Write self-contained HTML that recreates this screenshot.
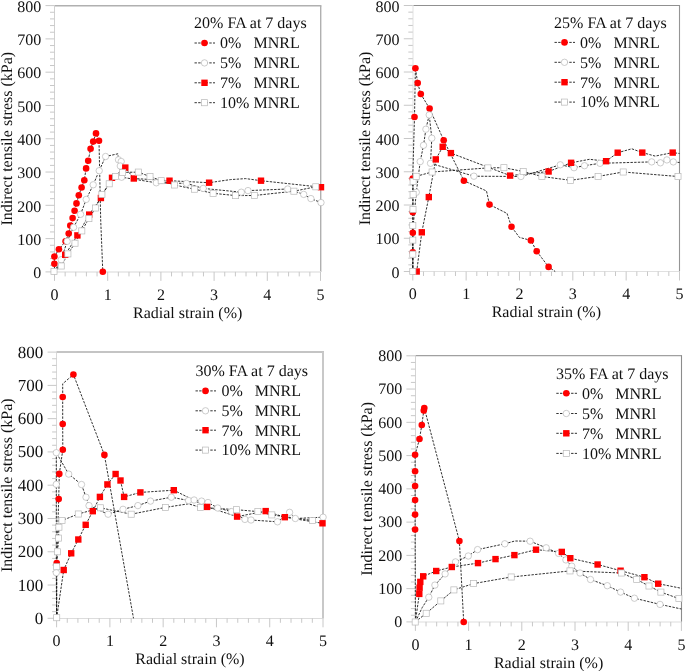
<!DOCTYPE html>
<html><head><meta charset="utf-8"><style>
html,body{margin:0;padding:0;background:#fff;}
svg{display:block;will-change:transform;}
text{text-rendering:geometricPrecision;}
</style></head><body>
<svg width="685" height="671" viewBox="0 0 685 671">
<rect width="685" height="671" fill="#fff"/>
<line x1="54.50" y1="5.70" x2="321.40" y2="5.70" stroke="#b0b0b0" stroke-width="1.4"/>
<line x1="320.70" y1="5.70" x2="320.70" y2="272.00" stroke="#b0b0b0" stroke-width="1.4"/>
<line x1="54.50" y1="5.70" x2="54.50" y2="272.00" stroke="#d0d0d0" stroke-width="1"/>
<line x1="54.50" y1="272.00" x2="320.70" y2="272.00" stroke="#ebebeb" stroke-width="2"/>
<line x1="45.50" y1="271.90" x2="54.50" y2="271.90" stroke="#c8c8c8" stroke-width="1"/>
<text x="41.30" y="278.10" text-anchor="end" style="font-family:'Liberation Serif',serif;font-size:16px;fill:#111;font-size:16px">0</text>
<line x1="50.00" y1="265.24" x2="54.50" y2="265.24" stroke="#c8c8c8" stroke-width="1"/>
<line x1="50.00" y1="258.58" x2="54.50" y2="258.58" stroke="#c8c8c8" stroke-width="1"/>
<line x1="50.00" y1="251.93" x2="54.50" y2="251.93" stroke="#c8c8c8" stroke-width="1"/>
<line x1="50.00" y1="245.27" x2="54.50" y2="245.27" stroke="#c8c8c8" stroke-width="1"/>
<line x1="45.50" y1="238.61" x2="54.50" y2="238.61" stroke="#c8c8c8" stroke-width="1"/>
<text x="41.30" y="244.81" text-anchor="end" style="font-family:'Liberation Serif',serif;font-size:16px;fill:#111;font-size:16px">100</text>
<line x1="50.00" y1="231.95" x2="54.50" y2="231.95" stroke="#c8c8c8" stroke-width="1"/>
<line x1="50.00" y1="225.30" x2="54.50" y2="225.30" stroke="#c8c8c8" stroke-width="1"/>
<line x1="50.00" y1="218.64" x2="54.50" y2="218.64" stroke="#c8c8c8" stroke-width="1"/>
<line x1="50.00" y1="211.98" x2="54.50" y2="211.98" stroke="#c8c8c8" stroke-width="1"/>
<line x1="45.50" y1="205.32" x2="54.50" y2="205.32" stroke="#c8c8c8" stroke-width="1"/>
<text x="41.30" y="211.52" text-anchor="end" style="font-family:'Liberation Serif',serif;font-size:16px;fill:#111;font-size:16px">200</text>
<line x1="50.00" y1="198.67" x2="54.50" y2="198.67" stroke="#c8c8c8" stroke-width="1"/>
<line x1="50.00" y1="192.01" x2="54.50" y2="192.01" stroke="#c8c8c8" stroke-width="1"/>
<line x1="50.00" y1="185.35" x2="54.50" y2="185.35" stroke="#c8c8c8" stroke-width="1"/>
<line x1="50.00" y1="178.69" x2="54.50" y2="178.69" stroke="#c8c8c8" stroke-width="1"/>
<line x1="45.50" y1="172.04" x2="54.50" y2="172.04" stroke="#c8c8c8" stroke-width="1"/>
<text x="41.30" y="178.24" text-anchor="end" style="font-family:'Liberation Serif',serif;font-size:16px;fill:#111;font-size:16px">300</text>
<line x1="50.00" y1="165.38" x2="54.50" y2="165.38" stroke="#c8c8c8" stroke-width="1"/>
<line x1="50.00" y1="158.72" x2="54.50" y2="158.72" stroke="#c8c8c8" stroke-width="1"/>
<line x1="50.00" y1="152.06" x2="54.50" y2="152.06" stroke="#c8c8c8" stroke-width="1"/>
<line x1="50.00" y1="145.41" x2="54.50" y2="145.41" stroke="#c8c8c8" stroke-width="1"/>
<line x1="45.50" y1="138.75" x2="54.50" y2="138.75" stroke="#c8c8c8" stroke-width="1"/>
<text x="41.30" y="144.95" text-anchor="end" style="font-family:'Liberation Serif',serif;font-size:16px;fill:#111;font-size:16px">400</text>
<line x1="50.00" y1="132.09" x2="54.50" y2="132.09" stroke="#c8c8c8" stroke-width="1"/>
<line x1="50.00" y1="125.44" x2="54.50" y2="125.44" stroke="#c8c8c8" stroke-width="1"/>
<line x1="50.00" y1="118.78" x2="54.50" y2="118.78" stroke="#c8c8c8" stroke-width="1"/>
<line x1="50.00" y1="112.12" x2="54.50" y2="112.12" stroke="#c8c8c8" stroke-width="1"/>
<line x1="45.50" y1="105.46" x2="54.50" y2="105.46" stroke="#c8c8c8" stroke-width="1"/>
<text x="41.30" y="111.66" text-anchor="end" style="font-family:'Liberation Serif',serif;font-size:16px;fill:#111;font-size:16px">500</text>
<line x1="50.00" y1="98.81" x2="54.50" y2="98.81" stroke="#c8c8c8" stroke-width="1"/>
<line x1="50.00" y1="92.15" x2="54.50" y2="92.15" stroke="#c8c8c8" stroke-width="1"/>
<line x1="50.00" y1="85.49" x2="54.50" y2="85.49" stroke="#c8c8c8" stroke-width="1"/>
<line x1="50.00" y1="78.83" x2="54.50" y2="78.83" stroke="#c8c8c8" stroke-width="1"/>
<line x1="45.50" y1="72.18" x2="54.50" y2="72.18" stroke="#c8c8c8" stroke-width="1"/>
<text x="41.30" y="78.38" text-anchor="end" style="font-family:'Liberation Serif',serif;font-size:16px;fill:#111;font-size:16px">600</text>
<line x1="50.00" y1="65.52" x2="54.50" y2="65.52" stroke="#c8c8c8" stroke-width="1"/>
<line x1="50.00" y1="58.86" x2="54.50" y2="58.86" stroke="#c8c8c8" stroke-width="1"/>
<line x1="50.00" y1="52.20" x2="54.50" y2="52.20" stroke="#c8c8c8" stroke-width="1"/>
<line x1="50.00" y1="45.55" x2="54.50" y2="45.55" stroke="#c8c8c8" stroke-width="1"/>
<line x1="45.50" y1="38.89" x2="54.50" y2="38.89" stroke="#c8c8c8" stroke-width="1"/>
<text x="41.30" y="45.09" text-anchor="end" style="font-family:'Liberation Serif',serif;font-size:16px;fill:#111;font-size:16px">700</text>
<line x1="50.00" y1="32.23" x2="54.50" y2="32.23" stroke="#c8c8c8" stroke-width="1"/>
<line x1="50.00" y1="25.57" x2="54.50" y2="25.57" stroke="#c8c8c8" stroke-width="1"/>
<line x1="50.00" y1="18.92" x2="54.50" y2="18.92" stroke="#c8c8c8" stroke-width="1"/>
<line x1="50.00" y1="12.26" x2="54.50" y2="12.26" stroke="#c8c8c8" stroke-width="1"/>
<line x1="45.50" y1="5.60" x2="54.50" y2="5.60" stroke="#c8c8c8" stroke-width="1"/>
<text x="41.30" y="11.80" text-anchor="end" style="font-family:'Liberation Serif',serif;font-size:16px;fill:#111;font-size:16px">800</text>
<line x1="54.50" y1="271.90" x2="54.50" y2="280.90" stroke="#c8c8c8" stroke-width="1"/>
<text x="54.50" y="299.50" text-anchor="middle" style="font-family:'Liberation Serif',serif;font-size:16px;fill:#111">0</text>
<line x1="65.14" y1="271.90" x2="65.14" y2="276.40" stroke="#c8c8c8" stroke-width="1"/>
<line x1="75.78" y1="271.90" x2="75.78" y2="276.40" stroke="#c8c8c8" stroke-width="1"/>
<line x1="86.42" y1="271.90" x2="86.42" y2="276.40" stroke="#c8c8c8" stroke-width="1"/>
<line x1="97.06" y1="271.90" x2="97.06" y2="276.40" stroke="#c8c8c8" stroke-width="1"/>
<line x1="107.70" y1="271.90" x2="107.70" y2="280.90" stroke="#c8c8c8" stroke-width="1"/>
<text x="107.70" y="299.50" text-anchor="middle" style="font-family:'Liberation Serif',serif;font-size:16px;fill:#111">1</text>
<line x1="118.34" y1="271.90" x2="118.34" y2="276.40" stroke="#c8c8c8" stroke-width="1"/>
<line x1="128.98" y1="271.90" x2="128.98" y2="276.40" stroke="#c8c8c8" stroke-width="1"/>
<line x1="139.62" y1="271.90" x2="139.62" y2="276.40" stroke="#c8c8c8" stroke-width="1"/>
<line x1="150.26" y1="271.90" x2="150.26" y2="276.40" stroke="#c8c8c8" stroke-width="1"/>
<line x1="160.90" y1="271.90" x2="160.90" y2="280.90" stroke="#c8c8c8" stroke-width="1"/>
<text x="160.90" y="299.50" text-anchor="middle" style="font-family:'Liberation Serif',serif;font-size:16px;fill:#111">2</text>
<line x1="171.54" y1="271.90" x2="171.54" y2="276.40" stroke="#c8c8c8" stroke-width="1"/>
<line x1="182.18" y1="271.90" x2="182.18" y2="276.40" stroke="#c8c8c8" stroke-width="1"/>
<line x1="192.82" y1="271.90" x2="192.82" y2="276.40" stroke="#c8c8c8" stroke-width="1"/>
<line x1="203.46" y1="271.90" x2="203.46" y2="276.40" stroke="#c8c8c8" stroke-width="1"/>
<line x1="214.10" y1="271.90" x2="214.10" y2="280.90" stroke="#c8c8c8" stroke-width="1"/>
<text x="214.10" y="299.50" text-anchor="middle" style="font-family:'Liberation Serif',serif;font-size:16px;fill:#111">3</text>
<line x1="224.74" y1="271.90" x2="224.74" y2="276.40" stroke="#c8c8c8" stroke-width="1"/>
<line x1="235.38" y1="271.90" x2="235.38" y2="276.40" stroke="#c8c8c8" stroke-width="1"/>
<line x1="246.02" y1="271.90" x2="246.02" y2="276.40" stroke="#c8c8c8" stroke-width="1"/>
<line x1="256.66" y1="271.90" x2="256.66" y2="276.40" stroke="#c8c8c8" stroke-width="1"/>
<line x1="267.30" y1="271.90" x2="267.30" y2="280.90" stroke="#c8c8c8" stroke-width="1"/>
<text x="267.30" y="299.50" text-anchor="middle" style="font-family:'Liberation Serif',serif;font-size:16px;fill:#111">4</text>
<line x1="277.94" y1="271.90" x2="277.94" y2="276.40" stroke="#c8c8c8" stroke-width="1"/>
<line x1="288.58" y1="271.90" x2="288.58" y2="276.40" stroke="#c8c8c8" stroke-width="1"/>
<line x1="299.22" y1="271.90" x2="299.22" y2="276.40" stroke="#c8c8c8" stroke-width="1"/>
<line x1="309.86" y1="271.90" x2="309.86" y2="276.40" stroke="#c8c8c8" stroke-width="1"/>
<line x1="320.50" y1="271.90" x2="320.50" y2="280.90" stroke="#c8c8c8" stroke-width="1"/>
<text x="320.50" y="299.50" text-anchor="middle" style="font-family:'Liberation Serif',serif;font-size:16px;fill:#111">5</text>
<text x="187.70" y="317.80" text-anchor="middle" style="font-family:'Liberation Serif',serif;font-size:16px;fill:#111">Radial strain (%)</text>
<text transform="translate(11.50,138.75) rotate(-90)" text-anchor="middle" style="font-family:'Liberation Serif',serif;font-size:16px;fill:#111">Indirect tensile stress (kPa)</text>
<polyline points="54.50,271.90 54.40,263.70 54.40,256.60 58.90,249.30 65.60,241.20 68.70,233.50 70.30,225.60 72.60,218.10 74.60,210.80 76.50,203.40 78.80,195.20 81.60,187.50 84.30,180.20 86.10,168.40 88.20,160.80 90.60,148.80 93.20,141.60 96.00,133.40 99.00,140.80 100.70,220.00 102.80,271.80" fill="none" stroke="#1a1a1a" stroke-width="0.9" stroke-dasharray="2.4,1.3"/>
<polyline points="54.50,271.90 61.20,259.70 67.20,241.30 73.60,227.30 80.60,214.30 86.20,199.40 93.20,184.80 99.20,170.70 105.60,156.50 117.90,153.80 118.50,159.80 121.20,161.50 120.30,166.00 121.60,177.20 156.30,182.80 186.50,183.40 203.20,188.40 241.30,192.20 248.00,190.60 287.70,189.00 303.70,194.40 310.90,198.60 321.00,202.60" fill="none" stroke="#1a1a1a" stroke-width="0.9" stroke-dasharray="2.4,1.3"/>
<polyline points="54.50,271.90 65.20,254.80 77.40,235.40 89.20,214.60 100.90,198.00 112.00,177.80 125.30,167.60 133.80,178.50 169.50,180.70 209.10,182.70 230.40,179.60 245.70,178.60 261.00,180.70 321.00,187.20" fill="none" stroke="#1a1a1a" stroke-width="0.9" stroke-dasharray="2.4,1.3"/>
<polyline points="54.00,271.40 61.20,266.00 67.90,253.90 75.00,243.20 81.80,230.90 88.90,218.60 95.50,208.00 101.90,194.50 109.20,183.80 115.50,176.50 122.60,172.40 138.30,172.10 150.00,176.60 161.20,180.70 174.50,185.00 194.50,189.20 213.10,193.30 235.60,195.60 254.40,195.50 293.90,191.20 315.80,186.80" fill="none" stroke="#1a1a1a" stroke-width="0.9" stroke-dasharray="2.4,1.3"/>
<circle cx="54.40" cy="263.70" r="3.3" fill="#ff0000"/>
<circle cx="54.40" cy="256.60" r="3.3" fill="#ff0000"/>
<circle cx="58.90" cy="249.30" r="3.3" fill="#ff0000"/>
<circle cx="65.60" cy="241.20" r="3.3" fill="#ff0000"/>
<circle cx="68.70" cy="233.50" r="3.3" fill="#ff0000"/>
<circle cx="70.30" cy="225.60" r="3.3" fill="#ff0000"/>
<circle cx="72.60" cy="218.10" r="3.3" fill="#ff0000"/>
<circle cx="74.60" cy="210.80" r="3.3" fill="#ff0000"/>
<circle cx="76.50" cy="203.40" r="3.3" fill="#ff0000"/>
<circle cx="78.80" cy="195.20" r="3.3" fill="#ff0000"/>
<circle cx="81.60" cy="187.50" r="3.3" fill="#ff0000"/>
<circle cx="84.30" cy="180.20" r="3.3" fill="#ff0000"/>
<circle cx="86.10" cy="168.40" r="3.3" fill="#ff0000"/>
<circle cx="88.20" cy="160.80" r="3.3" fill="#ff0000"/>
<circle cx="90.60" cy="148.80" r="3.3" fill="#ff0000"/>
<circle cx="93.20" cy="141.60" r="3.3" fill="#ff0000"/>
<circle cx="96.00" cy="133.40" r="3.3" fill="#ff0000"/>
<circle cx="99.00" cy="140.80" r="3.3" fill="#ff0000"/>
<circle cx="102.80" cy="271.80" r="3.3" fill="#ff0000"/>
<circle cx="61.20" cy="259.70" r="3.2" fill="#fff" stroke="#b8b8b8" stroke-width="0.7"/>
<circle cx="67.20" cy="241.30" r="3.2" fill="#fff" stroke="#b8b8b8" stroke-width="0.7"/>
<circle cx="73.60" cy="227.30" r="3.2" fill="#fff" stroke="#b8b8b8" stroke-width="0.7"/>
<circle cx="80.60" cy="214.30" r="3.2" fill="#fff" stroke="#b8b8b8" stroke-width="0.7"/>
<circle cx="86.20" cy="199.40" r="3.2" fill="#fff" stroke="#b8b8b8" stroke-width="0.7"/>
<circle cx="93.20" cy="184.80" r="3.2" fill="#fff" stroke="#b8b8b8" stroke-width="0.7"/>
<circle cx="99.20" cy="170.70" r="3.2" fill="#fff" stroke="#b8b8b8" stroke-width="0.7"/>
<circle cx="105.60" cy="156.50" r="3.2" fill="#fff" stroke="#b8b8b8" stroke-width="0.7"/>
<circle cx="118.50" cy="159.80" r="3.2" fill="#fff" stroke="#b8b8b8" stroke-width="0.7"/>
<circle cx="121.20" cy="161.50" r="3.2" fill="#fff" stroke="#b8b8b8" stroke-width="0.7"/>
<circle cx="120.30" cy="166.00" r="3.2" fill="#fff" stroke="#b8b8b8" stroke-width="0.7"/>
<circle cx="121.60" cy="177.20" r="3.2" fill="#fff" stroke="#b8b8b8" stroke-width="0.7"/>
<circle cx="156.30" cy="182.80" r="3.2" fill="#fff" stroke="#b8b8b8" stroke-width="0.7"/>
<circle cx="186.50" cy="183.40" r="3.2" fill="#fff" stroke="#b8b8b8" stroke-width="0.7"/>
<circle cx="203.20" cy="188.40" r="3.2" fill="#fff" stroke="#b8b8b8" stroke-width="0.7"/>
<circle cx="241.30" cy="192.20" r="3.2" fill="#fff" stroke="#b8b8b8" stroke-width="0.7"/>
<circle cx="248.00" cy="190.60" r="3.2" fill="#fff" stroke="#b8b8b8" stroke-width="0.7"/>
<circle cx="287.70" cy="189.00" r="3.2" fill="#fff" stroke="#b8b8b8" stroke-width="0.7"/>
<circle cx="303.70" cy="194.40" r="3.2" fill="#fff" stroke="#b8b8b8" stroke-width="0.7"/>
<circle cx="310.90" cy="198.60" r="3.2" fill="#fff" stroke="#b8b8b8" stroke-width="0.7"/>
<circle cx="321.00" cy="202.60" r="3.2" fill="#fff" stroke="#b8b8b8" stroke-width="0.7"/>
<rect x="62.00" y="251.60" width="6.4" height="6.4" fill="#ff0000"/>
<rect x="74.20" y="232.20" width="6.4" height="6.4" fill="#ff0000"/>
<rect x="86.00" y="211.40" width="6.4" height="6.4" fill="#ff0000"/>
<rect x="97.70" y="194.80" width="6.4" height="6.4" fill="#ff0000"/>
<rect x="108.80" y="174.60" width="6.4" height="6.4" fill="#ff0000"/>
<rect x="122.10" y="164.40" width="6.4" height="6.4" fill="#ff0000"/>
<rect x="130.60" y="175.30" width="6.4" height="6.4" fill="#ff0000"/>
<rect x="166.30" y="177.50" width="6.4" height="6.4" fill="#ff0000"/>
<rect x="205.90" y="179.50" width="6.4" height="6.4" fill="#ff0000"/>
<rect x="257.80" y="177.50" width="6.4" height="6.4" fill="#ff0000"/>
<rect x="317.80" y="184.00" width="6.4" height="6.4" fill="#ff0000"/>
<rect x="50.95" y="268.35" width="6.1000000000000005" height="6.1000000000000005" fill="#fff" stroke="#b8b8b8" stroke-width="0.7"/>
<rect x="58.15" y="262.95" width="6.1000000000000005" height="6.1000000000000005" fill="#fff" stroke="#b8b8b8" stroke-width="0.7"/>
<rect x="64.85" y="250.85" width="6.1000000000000005" height="6.1000000000000005" fill="#fff" stroke="#b8b8b8" stroke-width="0.7"/>
<rect x="71.95" y="240.15" width="6.1000000000000005" height="6.1000000000000005" fill="#fff" stroke="#b8b8b8" stroke-width="0.7"/>
<rect x="78.75" y="227.85" width="6.1000000000000005" height="6.1000000000000005" fill="#fff" stroke="#b8b8b8" stroke-width="0.7"/>
<rect x="85.85" y="215.55" width="6.1000000000000005" height="6.1000000000000005" fill="#fff" stroke="#b8b8b8" stroke-width="0.7"/>
<rect x="92.45" y="204.95" width="6.1000000000000005" height="6.1000000000000005" fill="#fff" stroke="#b8b8b8" stroke-width="0.7"/>
<rect x="98.85" y="191.45" width="6.1000000000000005" height="6.1000000000000005" fill="#fff" stroke="#b8b8b8" stroke-width="0.7"/>
<rect x="106.15" y="180.75" width="6.1000000000000005" height="6.1000000000000005" fill="#fff" stroke="#b8b8b8" stroke-width="0.7"/>
<rect x="112.45" y="173.45" width="6.1000000000000005" height="6.1000000000000005" fill="#fff" stroke="#b8b8b8" stroke-width="0.7"/>
<rect x="119.55" y="169.35" width="6.1000000000000005" height="6.1000000000000005" fill="#fff" stroke="#b8b8b8" stroke-width="0.7"/>
<rect x="135.25" y="169.05" width="6.1000000000000005" height="6.1000000000000005" fill="#fff" stroke="#b8b8b8" stroke-width="0.7"/>
<rect x="146.95" y="173.55" width="6.1000000000000005" height="6.1000000000000005" fill="#fff" stroke="#b8b8b8" stroke-width="0.7"/>
<rect x="158.15" y="177.65" width="6.1000000000000005" height="6.1000000000000005" fill="#fff" stroke="#b8b8b8" stroke-width="0.7"/>
<rect x="171.45" y="181.95" width="6.1000000000000005" height="6.1000000000000005" fill="#fff" stroke="#b8b8b8" stroke-width="0.7"/>
<rect x="191.45" y="186.15" width="6.1000000000000005" height="6.1000000000000005" fill="#fff" stroke="#b8b8b8" stroke-width="0.7"/>
<rect x="210.05" y="190.25" width="6.1000000000000005" height="6.1000000000000005" fill="#fff" stroke="#b8b8b8" stroke-width="0.7"/>
<rect x="232.55" y="192.55" width="6.1000000000000005" height="6.1000000000000005" fill="#fff" stroke="#b8b8b8" stroke-width="0.7"/>
<rect x="251.35" y="192.45" width="6.1000000000000005" height="6.1000000000000005" fill="#fff" stroke="#b8b8b8" stroke-width="0.7"/>
<rect x="290.85" y="188.15" width="6.1000000000000005" height="6.1000000000000005" fill="#fff" stroke="#b8b8b8" stroke-width="0.7"/>
<rect x="312.75" y="183.75" width="6.1000000000000005" height="6.1000000000000005" fill="#fff" stroke="#b8b8b8" stroke-width="0.7"/>
<text x="194.10" y="28.10" style="font-family:'Liberation Serif',serif;font-size:16px;fill:#111">20% FA at 7 days</text>
<line x1="194.50" y1="43.00" x2="215.00" y2="43.00" stroke="#1a1a1a" stroke-width="0.9" stroke-dasharray="2.4,1.3"/>
<circle cx="204.50" cy="43.00" r="3.3" fill="#ff0000"/>
<text x="220.10" y="48.30" style="font-family:'Liberation Serif',serif;font-size:16px;fill:#111">0%&#160;&#160;&#160;MNRL</text>
<line x1="194.50" y1="62.90" x2="215.00" y2="62.90" stroke="#1a1a1a" stroke-width="0.9" stroke-dasharray="2.4,1.3"/>
<circle cx="204.50" cy="62.90" r="3.2" fill="#fff" stroke="#b8b8b8" stroke-width="0.7"/>
<text x="220.10" y="68.20" style="font-family:'Liberation Serif',serif;font-size:16px;fill:#111">5%&#160;&#160;&#160;MNRL</text>
<line x1="194.50" y1="82.80" x2="215.00" y2="82.80" stroke="#1a1a1a" stroke-width="0.9" stroke-dasharray="2.4,1.3"/>
<rect x="201.30" y="79.60" width="6.4" height="6.4" fill="#ff0000"/>
<text x="220.10" y="88.10" style="font-family:'Liberation Serif',serif;font-size:16px;fill:#111">7%&#160;&#160;&#160;MNRL</text>
<line x1="194.50" y1="102.70" x2="215.00" y2="102.70" stroke="#1a1a1a" stroke-width="0.9" stroke-dasharray="2.4,1.3"/>
<rect x="201.45" y="99.65" width="6.1000000000000005" height="6.1000000000000005" fill="#fff" stroke="#b8b8b8" stroke-width="0.7"/>
<text x="220.10" y="108.00" style="font-family:'Liberation Serif',serif;font-size:16px;fill:#111">10%&#160;MNRL</text>
<line x1="413.00" y1="5.50" x2="680.05" y2="5.50" stroke="#909090" stroke-width="1.1"/>
<line x1="679.50" y1="5.50" x2="679.50" y2="271.50" stroke="#959595" stroke-width="1.1"/>
<line x1="413.00" y1="5.50" x2="413.00" y2="271.50" stroke="#f0f0f0" stroke-width="2"/>
<line x1="413.00" y1="271.50" x2="679.50" y2="271.50" stroke="#e0e0e0" stroke-width="1"/>
<line x1="403.80" y1="271.50" x2="412.80" y2="271.50" stroke="#c8c8c8" stroke-width="1"/>
<text x="399.60" y="277.70" text-anchor="end" style="font-family:'Liberation Serif',serif;font-size:16px;fill:#111;font-size:16px">0</text>
<line x1="408.30" y1="264.85" x2="412.80" y2="264.85" stroke="#c8c8c8" stroke-width="1"/>
<line x1="408.30" y1="258.20" x2="412.80" y2="258.20" stroke="#c8c8c8" stroke-width="1"/>
<line x1="408.30" y1="251.55" x2="412.80" y2="251.55" stroke="#c8c8c8" stroke-width="1"/>
<line x1="408.30" y1="244.90" x2="412.80" y2="244.90" stroke="#c8c8c8" stroke-width="1"/>
<line x1="403.80" y1="238.25" x2="412.80" y2="238.25" stroke="#c8c8c8" stroke-width="1"/>
<text x="399.60" y="244.45" text-anchor="end" style="font-family:'Liberation Serif',serif;font-size:16px;fill:#111;font-size:16px">100</text>
<line x1="408.30" y1="231.60" x2="412.80" y2="231.60" stroke="#c8c8c8" stroke-width="1"/>
<line x1="408.30" y1="224.95" x2="412.80" y2="224.95" stroke="#c8c8c8" stroke-width="1"/>
<line x1="408.30" y1="218.30" x2="412.80" y2="218.30" stroke="#c8c8c8" stroke-width="1"/>
<line x1="408.30" y1="211.65" x2="412.80" y2="211.65" stroke="#c8c8c8" stroke-width="1"/>
<line x1="403.80" y1="205.00" x2="412.80" y2="205.00" stroke="#c8c8c8" stroke-width="1"/>
<text x="399.60" y="211.20" text-anchor="end" style="font-family:'Liberation Serif',serif;font-size:16px;fill:#111;font-size:16px">200</text>
<line x1="408.30" y1="198.35" x2="412.80" y2="198.35" stroke="#c8c8c8" stroke-width="1"/>
<line x1="408.30" y1="191.70" x2="412.80" y2="191.70" stroke="#c8c8c8" stroke-width="1"/>
<line x1="408.30" y1="185.05" x2="412.80" y2="185.05" stroke="#c8c8c8" stroke-width="1"/>
<line x1="408.30" y1="178.40" x2="412.80" y2="178.40" stroke="#c8c8c8" stroke-width="1"/>
<line x1="403.80" y1="171.75" x2="412.80" y2="171.75" stroke="#c8c8c8" stroke-width="1"/>
<text x="399.60" y="177.95" text-anchor="end" style="font-family:'Liberation Serif',serif;font-size:16px;fill:#111;font-size:16px">300</text>
<line x1="408.30" y1="165.10" x2="412.80" y2="165.10" stroke="#c8c8c8" stroke-width="1"/>
<line x1="408.30" y1="158.45" x2="412.80" y2="158.45" stroke="#c8c8c8" stroke-width="1"/>
<line x1="408.30" y1="151.80" x2="412.80" y2="151.80" stroke="#c8c8c8" stroke-width="1"/>
<line x1="408.30" y1="145.15" x2="412.80" y2="145.15" stroke="#c8c8c8" stroke-width="1"/>
<line x1="403.80" y1="138.50" x2="412.80" y2="138.50" stroke="#c8c8c8" stroke-width="1"/>
<text x="399.60" y="144.70" text-anchor="end" style="font-family:'Liberation Serif',serif;font-size:16px;fill:#111;font-size:16px">400</text>
<line x1="408.30" y1="131.85" x2="412.80" y2="131.85" stroke="#c8c8c8" stroke-width="1"/>
<line x1="408.30" y1="125.20" x2="412.80" y2="125.20" stroke="#c8c8c8" stroke-width="1"/>
<line x1="408.30" y1="118.55" x2="412.80" y2="118.55" stroke="#c8c8c8" stroke-width="1"/>
<line x1="408.30" y1="111.90" x2="412.80" y2="111.90" stroke="#c8c8c8" stroke-width="1"/>
<line x1="403.80" y1="105.25" x2="412.80" y2="105.25" stroke="#c8c8c8" stroke-width="1"/>
<text x="399.60" y="111.45" text-anchor="end" style="font-family:'Liberation Serif',serif;font-size:16px;fill:#111;font-size:16px">500</text>
<line x1="408.30" y1="98.60" x2="412.80" y2="98.60" stroke="#c8c8c8" stroke-width="1"/>
<line x1="408.30" y1="91.95" x2="412.80" y2="91.95" stroke="#c8c8c8" stroke-width="1"/>
<line x1="408.30" y1="85.30" x2="412.80" y2="85.30" stroke="#c8c8c8" stroke-width="1"/>
<line x1="408.30" y1="78.65" x2="412.80" y2="78.65" stroke="#c8c8c8" stroke-width="1"/>
<line x1="403.80" y1="72.00" x2="412.80" y2="72.00" stroke="#c8c8c8" stroke-width="1"/>
<text x="399.60" y="78.20" text-anchor="end" style="font-family:'Liberation Serif',serif;font-size:16px;fill:#111;font-size:16px">600</text>
<line x1="408.30" y1="65.35" x2="412.80" y2="65.35" stroke="#c8c8c8" stroke-width="1"/>
<line x1="408.30" y1="58.70" x2="412.80" y2="58.70" stroke="#c8c8c8" stroke-width="1"/>
<line x1="408.30" y1="52.05" x2="412.80" y2="52.05" stroke="#c8c8c8" stroke-width="1"/>
<line x1="408.30" y1="45.40" x2="412.80" y2="45.40" stroke="#c8c8c8" stroke-width="1"/>
<line x1="403.80" y1="38.75" x2="412.80" y2="38.75" stroke="#c8c8c8" stroke-width="1"/>
<text x="399.60" y="44.95" text-anchor="end" style="font-family:'Liberation Serif',serif;font-size:16px;fill:#111;font-size:16px">700</text>
<line x1="408.30" y1="32.10" x2="412.80" y2="32.10" stroke="#c8c8c8" stroke-width="1"/>
<line x1="408.30" y1="25.45" x2="412.80" y2="25.45" stroke="#c8c8c8" stroke-width="1"/>
<line x1="408.30" y1="18.80" x2="412.80" y2="18.80" stroke="#c8c8c8" stroke-width="1"/>
<line x1="408.30" y1="12.15" x2="412.80" y2="12.15" stroke="#c8c8c8" stroke-width="1"/>
<line x1="403.80" y1="5.50" x2="412.80" y2="5.50" stroke="#c8c8c8" stroke-width="1"/>
<text x="399.60" y="11.70" text-anchor="end" style="font-family:'Liberation Serif',serif;font-size:16px;fill:#111;font-size:16px">800</text>
<line x1="412.80" y1="271.50" x2="412.80" y2="280.50" stroke="#c8c8c8" stroke-width="1"/>
<text x="412.80" y="299.10" text-anchor="middle" style="font-family:'Liberation Serif',serif;font-size:16px;fill:#111">0</text>
<line x1="423.47" y1="271.50" x2="423.47" y2="276.00" stroke="#c8c8c8" stroke-width="1"/>
<line x1="434.14" y1="271.50" x2="434.14" y2="276.00" stroke="#c8c8c8" stroke-width="1"/>
<line x1="444.80" y1="271.50" x2="444.80" y2="276.00" stroke="#c8c8c8" stroke-width="1"/>
<line x1="455.47" y1="271.50" x2="455.47" y2="276.00" stroke="#c8c8c8" stroke-width="1"/>
<line x1="466.14" y1="271.50" x2="466.14" y2="280.50" stroke="#c8c8c8" stroke-width="1"/>
<text x="466.14" y="299.10" text-anchor="middle" style="font-family:'Liberation Serif',serif;font-size:16px;fill:#111">1</text>
<line x1="476.81" y1="271.50" x2="476.81" y2="276.00" stroke="#c8c8c8" stroke-width="1"/>
<line x1="487.48" y1="271.50" x2="487.48" y2="276.00" stroke="#c8c8c8" stroke-width="1"/>
<line x1="498.14" y1="271.50" x2="498.14" y2="276.00" stroke="#c8c8c8" stroke-width="1"/>
<line x1="508.81" y1="271.50" x2="508.81" y2="276.00" stroke="#c8c8c8" stroke-width="1"/>
<line x1="519.48" y1="271.50" x2="519.48" y2="280.50" stroke="#c8c8c8" stroke-width="1"/>
<text x="519.48" y="299.10" text-anchor="middle" style="font-family:'Liberation Serif',serif;font-size:16px;fill:#111">2</text>
<line x1="530.15" y1="271.50" x2="530.15" y2="276.00" stroke="#c8c8c8" stroke-width="1"/>
<line x1="540.82" y1="271.50" x2="540.82" y2="276.00" stroke="#c8c8c8" stroke-width="1"/>
<line x1="551.48" y1="271.50" x2="551.48" y2="276.00" stroke="#c8c8c8" stroke-width="1"/>
<line x1="562.15" y1="271.50" x2="562.15" y2="276.00" stroke="#c8c8c8" stroke-width="1"/>
<line x1="572.82" y1="271.50" x2="572.82" y2="280.50" stroke="#c8c8c8" stroke-width="1"/>
<text x="572.82" y="299.10" text-anchor="middle" style="font-family:'Liberation Serif',serif;font-size:16px;fill:#111">3</text>
<line x1="583.49" y1="271.50" x2="583.49" y2="276.00" stroke="#c8c8c8" stroke-width="1"/>
<line x1="594.16" y1="271.50" x2="594.16" y2="276.00" stroke="#c8c8c8" stroke-width="1"/>
<line x1="604.82" y1="271.50" x2="604.82" y2="276.00" stroke="#c8c8c8" stroke-width="1"/>
<line x1="615.49" y1="271.50" x2="615.49" y2="276.00" stroke="#c8c8c8" stroke-width="1"/>
<line x1="626.16" y1="271.50" x2="626.16" y2="280.50" stroke="#c8c8c8" stroke-width="1"/>
<text x="626.16" y="299.10" text-anchor="middle" style="font-family:'Liberation Serif',serif;font-size:16px;fill:#111">4</text>
<line x1="636.83" y1="271.50" x2="636.83" y2="276.00" stroke="#c8c8c8" stroke-width="1"/>
<line x1="647.50" y1="271.50" x2="647.50" y2="276.00" stroke="#c8c8c8" stroke-width="1"/>
<line x1="658.16" y1="271.50" x2="658.16" y2="276.00" stroke="#c8c8c8" stroke-width="1"/>
<line x1="668.83" y1="271.50" x2="668.83" y2="276.00" stroke="#c8c8c8" stroke-width="1"/>
<line x1="679.50" y1="271.50" x2="679.50" y2="280.50" stroke="#c8c8c8" stroke-width="1"/>
<text x="679.50" y="299.10" text-anchor="middle" style="font-family:'Liberation Serif',serif;font-size:16px;fill:#111">5</text>
<text x="546.35" y="317.40" text-anchor="middle" style="font-family:'Liberation Serif',serif;font-size:16px;fill:#111">Radial strain (%)</text>
<text transform="translate(369.80,138.50) rotate(-90)" text-anchor="middle" style="font-family:'Liberation Serif',serif;font-size:16px;fill:#111">Indirect tensile stress (kPa)</text>
<polyline points="412.80,271.50 412.80,252.20 412.80,232.80 412.80,212.20 412.70,178.50 414.50,117.00 415.40,68.30 417.70,83.10 420.80,94.00 429.60,108.60 443.70,140.20 463.90,180.70 486.50,191.00 489.50,204.60 507.00,213.40 511.50,226.70 519.40,237.40 530.90,240.40 536.70,251.30 548.60,266.90 555.20,271.50" fill="none" stroke="#1a1a1a" stroke-width="0.9" stroke-dasharray="2.4,1.3"/>
<polyline points="412.80,271.50 412.80,230.00 416.30,192.30 420.20,161.60 423.50,145.30 425.90,129.20 429.20,114.90 431.80,138.20 430.50,163.30 473.90,176.20 520.90,176.50 560.30,164.80 574.00,167.70 584.50,165.70 600.00,163.30 651.70,161.90 660.40,162.80 666.90,159.90 673.30,161.90 679.50,162.50" fill="none" stroke="#1a1a1a" stroke-width="0.9" stroke-dasharray="2.4,1.3"/>
<polyline points="412.80,271.50 416.70,271.50 421.80,232.30 428.80,197.10 435.80,159.40 442.70,146.80 450.90,153.10 510.10,175.60 548.60,171.50 571.10,162.80 589.50,159.30 606.10,161.20 617.70,152.70 631.80,148.80 642.30,152.60 655.20,156.10 672.70,152.60 679.50,153.50" fill="none" stroke="#1a1a1a" stroke-width="0.9" stroke-dasharray="2.4,1.3"/>
<polyline points="412.80,271.50 412.80,254.20 412.80,240.10 412.80,225.50 413.00,209.30 413.10,194.60 413.10,181.50 416.20,176.30 432.10,172.00 487.90,167.90 503.90,167.70 523.20,171.50 541.90,176.50 570.50,180.30 598.10,176.40 623.20,172.00 678.00,176.50" fill="none" stroke="#1a1a1a" stroke-width="0.9" stroke-dasharray="2.4,1.3"/>
<circle cx="412.80" cy="252.20" r="3.3" fill="#ff0000"/>
<circle cx="412.80" cy="232.80" r="3.3" fill="#ff0000"/>
<circle cx="412.80" cy="212.20" r="3.3" fill="#ff0000"/>
<circle cx="412.70" cy="178.50" r="3.3" fill="#ff0000"/>
<circle cx="414.50" cy="117.00" r="3.3" fill="#ff0000"/>
<circle cx="415.40" cy="68.30" r="3.3" fill="#ff0000"/>
<circle cx="417.70" cy="83.10" r="3.3" fill="#ff0000"/>
<circle cx="420.80" cy="94.00" r="3.3" fill="#ff0000"/>
<circle cx="429.60" cy="108.60" r="3.3" fill="#ff0000"/>
<circle cx="443.70" cy="140.20" r="3.3" fill="#ff0000"/>
<circle cx="463.90" cy="180.70" r="3.3" fill="#ff0000"/>
<circle cx="489.50" cy="204.60" r="3.3" fill="#ff0000"/>
<circle cx="511.50" cy="226.70" r="3.3" fill="#ff0000"/>
<circle cx="530.90" cy="240.40" r="3.3" fill="#ff0000"/>
<circle cx="536.70" cy="251.30" r="3.3" fill="#ff0000"/>
<circle cx="548.60" cy="266.90" r="3.3" fill="#ff0000"/>
<circle cx="416.30" cy="192.30" r="3.2" fill="#fff" stroke="#b8b8b8" stroke-width="0.7"/>
<circle cx="420.20" cy="161.60" r="3.2" fill="#fff" stroke="#b8b8b8" stroke-width="0.7"/>
<circle cx="423.50" cy="145.30" r="3.2" fill="#fff" stroke="#b8b8b8" stroke-width="0.7"/>
<circle cx="425.90" cy="129.20" r="3.2" fill="#fff" stroke="#b8b8b8" stroke-width="0.7"/>
<circle cx="429.20" cy="114.90" r="3.2" fill="#fff" stroke="#b8b8b8" stroke-width="0.7"/>
<circle cx="431.80" cy="138.20" r="3.2" fill="#fff" stroke="#b8b8b8" stroke-width="0.7"/>
<circle cx="430.50" cy="163.30" r="3.2" fill="#fff" stroke="#b8b8b8" stroke-width="0.7"/>
<circle cx="473.90" cy="176.20" r="3.2" fill="#fff" stroke="#b8b8b8" stroke-width="0.7"/>
<circle cx="520.90" cy="176.50" r="3.2" fill="#fff" stroke="#b8b8b8" stroke-width="0.7"/>
<circle cx="560.30" cy="164.80" r="3.2" fill="#fff" stroke="#b8b8b8" stroke-width="0.7"/>
<circle cx="574.00" cy="167.70" r="3.2" fill="#fff" stroke="#b8b8b8" stroke-width="0.7"/>
<circle cx="584.50" cy="165.70" r="3.2" fill="#fff" stroke="#b8b8b8" stroke-width="0.7"/>
<circle cx="600.00" cy="163.30" r="3.2" fill="#fff" stroke="#b8b8b8" stroke-width="0.7"/>
<circle cx="651.70" cy="161.90" r="3.2" fill="#fff" stroke="#b8b8b8" stroke-width="0.7"/>
<circle cx="660.40" cy="162.80" r="3.2" fill="#fff" stroke="#b8b8b8" stroke-width="0.7"/>
<circle cx="666.90" cy="159.90" r="3.2" fill="#fff" stroke="#b8b8b8" stroke-width="0.7"/>
<circle cx="673.30" cy="161.90" r="3.2" fill="#fff" stroke="#b8b8b8" stroke-width="0.7"/>
<rect x="413.50" y="268.30" width="6.4" height="6.4" fill="#ff0000"/>
<rect x="418.60" y="229.10" width="6.4" height="6.4" fill="#ff0000"/>
<rect x="425.60" y="193.90" width="6.4" height="6.4" fill="#ff0000"/>
<rect x="432.60" y="156.20" width="6.4" height="6.4" fill="#ff0000"/>
<rect x="439.50" y="143.60" width="6.4" height="6.4" fill="#ff0000"/>
<rect x="447.70" y="149.90" width="6.4" height="6.4" fill="#ff0000"/>
<rect x="506.90" y="172.40" width="6.4" height="6.4" fill="#ff0000"/>
<rect x="545.40" y="168.30" width="6.4" height="6.4" fill="#ff0000"/>
<rect x="567.90" y="159.60" width="6.4" height="6.4" fill="#ff0000"/>
<rect x="602.90" y="158.00" width="6.4" height="6.4" fill="#ff0000"/>
<rect x="614.50" y="149.50" width="6.4" height="6.4" fill="#ff0000"/>
<rect x="639.10" y="149.40" width="6.4" height="6.4" fill="#ff0000"/>
<rect x="669.50" y="149.40" width="6.4" height="6.4" fill="#ff0000"/>
<rect x="409.75" y="268.45" width="6.1000000000000005" height="6.1000000000000005" fill="#fff" stroke="#b8b8b8" stroke-width="0.7"/>
<rect x="409.75" y="251.15" width="6.1000000000000005" height="6.1000000000000005" fill="#fff" stroke="#b8b8b8" stroke-width="0.7"/>
<rect x="409.75" y="237.05" width="6.1000000000000005" height="6.1000000000000005" fill="#fff" stroke="#b8b8b8" stroke-width="0.7"/>
<rect x="409.75" y="222.45" width="6.1000000000000005" height="6.1000000000000005" fill="#fff" stroke="#b8b8b8" stroke-width="0.7"/>
<rect x="409.95" y="206.25" width="6.1000000000000005" height="6.1000000000000005" fill="#fff" stroke="#b8b8b8" stroke-width="0.7"/>
<rect x="410.05" y="191.55" width="6.1000000000000005" height="6.1000000000000005" fill="#fff" stroke="#b8b8b8" stroke-width="0.7"/>
<rect x="410.05" y="178.45" width="6.1000000000000005" height="6.1000000000000005" fill="#fff" stroke="#b8b8b8" stroke-width="0.7"/>
<rect x="413.15" y="173.25" width="6.1000000000000005" height="6.1000000000000005" fill="#fff" stroke="#b8b8b8" stroke-width="0.7"/>
<rect x="429.05" y="168.95" width="6.1000000000000005" height="6.1000000000000005" fill="#fff" stroke="#b8b8b8" stroke-width="0.7"/>
<rect x="484.85" y="164.85" width="6.1000000000000005" height="6.1000000000000005" fill="#fff" stroke="#b8b8b8" stroke-width="0.7"/>
<rect x="500.85" y="164.65" width="6.1000000000000005" height="6.1000000000000005" fill="#fff" stroke="#b8b8b8" stroke-width="0.7"/>
<rect x="520.15" y="168.45" width="6.1000000000000005" height="6.1000000000000005" fill="#fff" stroke="#b8b8b8" stroke-width="0.7"/>
<rect x="538.85" y="173.45" width="6.1000000000000005" height="6.1000000000000005" fill="#fff" stroke="#b8b8b8" stroke-width="0.7"/>
<rect x="567.45" y="177.25" width="6.1000000000000005" height="6.1000000000000005" fill="#fff" stroke="#b8b8b8" stroke-width="0.7"/>
<rect x="595.05" y="173.35" width="6.1000000000000005" height="6.1000000000000005" fill="#fff" stroke="#b8b8b8" stroke-width="0.7"/>
<rect x="620.15" y="168.95" width="6.1000000000000005" height="6.1000000000000005" fill="#fff" stroke="#b8b8b8" stroke-width="0.7"/>
<rect x="674.95" y="173.45" width="6.1000000000000005" height="6.1000000000000005" fill="#fff" stroke="#b8b8b8" stroke-width="0.7"/>
<text x="554.10" y="27.80" style="font-family:'Liberation Serif',serif;font-size:16px;fill:#111">25% FA at 7 days</text>
<line x1="554.50" y1="42.40" x2="575.00" y2="42.40" stroke="#1a1a1a" stroke-width="0.9" stroke-dasharray="2.4,1.3"/>
<circle cx="564.50" cy="42.40" r="3.3" fill="#ff0000"/>
<text x="580.10" y="47.70" style="font-family:'Liberation Serif',serif;font-size:16px;fill:#111">0%&#160;&#160;&#160;MNRL</text>
<line x1="554.50" y1="62.30" x2="575.00" y2="62.30" stroke="#1a1a1a" stroke-width="0.9" stroke-dasharray="2.4,1.3"/>
<circle cx="564.50" cy="62.30" r="3.2" fill="#fff" stroke="#b8b8b8" stroke-width="0.7"/>
<text x="580.10" y="67.60" style="font-family:'Liberation Serif',serif;font-size:16px;fill:#111">5%&#160;&#160;&#160;MNRL</text>
<line x1="554.50" y1="82.20" x2="575.00" y2="82.20" stroke="#1a1a1a" stroke-width="0.9" stroke-dasharray="2.4,1.3"/>
<rect x="561.30" y="79.00" width="6.4" height="6.4" fill="#ff0000"/>
<text x="580.10" y="87.50" style="font-family:'Liberation Serif',serif;font-size:16px;fill:#111">7%&#160;&#160;&#160;MNRL</text>
<line x1="554.50" y1="102.10" x2="575.00" y2="102.10" stroke="#1a1a1a" stroke-width="0.9" stroke-dasharray="2.4,1.3"/>
<rect x="561.45" y="99.05" width="6.1000000000000005" height="6.1000000000000005" fill="#fff" stroke="#b8b8b8" stroke-width="0.7"/>
<text x="580.10" y="107.40" style="font-family:'Liberation Serif',serif;font-size:16px;fill:#111">10%&#160;MNRL</text>
<line x1="56.50" y1="352.00" x2="324.00" y2="352.00" stroke="#c4c4c4" stroke-width="2"/>
<line x1="323.00" y1="352.00" x2="323.00" y2="618.50" stroke="#c8c8c8" stroke-width="2"/>
<line x1="56.50" y1="352.00" x2="56.50" y2="618.50" stroke="#d8d8d8" stroke-width="1"/>
<line x1="56.50" y1="618.50" x2="323.00" y2="618.50" stroke="#dcdcdc" stroke-width="1"/>
<line x1="47.60" y1="618.30" x2="56.60" y2="618.30" stroke="#c8c8c8" stroke-width="1"/>
<text x="43.30" y="623.80" text-anchor="end" style="font-family:'Liberation Serif',serif;font-size:16px;fill:#111;font-size:17px">0</text>
<line x1="52.10" y1="611.64" x2="56.60" y2="611.64" stroke="#c8c8c8" stroke-width="1"/>
<line x1="52.10" y1="604.99" x2="56.60" y2="604.99" stroke="#c8c8c8" stroke-width="1"/>
<line x1="52.10" y1="598.33" x2="56.60" y2="598.33" stroke="#c8c8c8" stroke-width="1"/>
<line x1="52.10" y1="591.68" x2="56.60" y2="591.68" stroke="#c8c8c8" stroke-width="1"/>
<line x1="47.60" y1="585.02" x2="56.60" y2="585.02" stroke="#c8c8c8" stroke-width="1"/>
<text x="43.30" y="590.52" text-anchor="end" style="font-family:'Liberation Serif',serif;font-size:16px;fill:#111;font-size:17px">100</text>
<line x1="52.10" y1="578.37" x2="56.60" y2="578.37" stroke="#c8c8c8" stroke-width="1"/>
<line x1="52.10" y1="571.71" x2="56.60" y2="571.71" stroke="#c8c8c8" stroke-width="1"/>
<line x1="52.10" y1="565.06" x2="56.60" y2="565.06" stroke="#c8c8c8" stroke-width="1"/>
<line x1="52.10" y1="558.40" x2="56.60" y2="558.40" stroke="#c8c8c8" stroke-width="1"/>
<line x1="47.60" y1="551.75" x2="56.60" y2="551.75" stroke="#c8c8c8" stroke-width="1"/>
<text x="43.30" y="557.25" text-anchor="end" style="font-family:'Liberation Serif',serif;font-size:16px;fill:#111;font-size:17px">200</text>
<line x1="52.10" y1="545.10" x2="56.60" y2="545.10" stroke="#c8c8c8" stroke-width="1"/>
<line x1="52.10" y1="538.44" x2="56.60" y2="538.44" stroke="#c8c8c8" stroke-width="1"/>
<line x1="52.10" y1="531.78" x2="56.60" y2="531.78" stroke="#c8c8c8" stroke-width="1"/>
<line x1="52.10" y1="525.13" x2="56.60" y2="525.13" stroke="#c8c8c8" stroke-width="1"/>
<line x1="47.60" y1="518.48" x2="56.60" y2="518.48" stroke="#c8c8c8" stroke-width="1"/>
<text x="43.30" y="523.98" text-anchor="end" style="font-family:'Liberation Serif',serif;font-size:16px;fill:#111;font-size:17px">300</text>
<line x1="52.10" y1="511.82" x2="56.60" y2="511.82" stroke="#c8c8c8" stroke-width="1"/>
<line x1="52.10" y1="505.16" x2="56.60" y2="505.16" stroke="#c8c8c8" stroke-width="1"/>
<line x1="52.10" y1="498.51" x2="56.60" y2="498.51" stroke="#c8c8c8" stroke-width="1"/>
<line x1="52.10" y1="491.85" x2="56.60" y2="491.85" stroke="#c8c8c8" stroke-width="1"/>
<line x1="47.60" y1="485.20" x2="56.60" y2="485.20" stroke="#c8c8c8" stroke-width="1"/>
<text x="43.30" y="490.70" text-anchor="end" style="font-family:'Liberation Serif',serif;font-size:16px;fill:#111;font-size:17px">400</text>
<line x1="52.10" y1="478.54" x2="56.60" y2="478.54" stroke="#c8c8c8" stroke-width="1"/>
<line x1="52.10" y1="471.89" x2="56.60" y2="471.89" stroke="#c8c8c8" stroke-width="1"/>
<line x1="52.10" y1="465.24" x2="56.60" y2="465.24" stroke="#c8c8c8" stroke-width="1"/>
<line x1="52.10" y1="458.58" x2="56.60" y2="458.58" stroke="#c8c8c8" stroke-width="1"/>
<line x1="47.60" y1="451.92" x2="56.60" y2="451.92" stroke="#c8c8c8" stroke-width="1"/>
<text x="43.30" y="457.42" text-anchor="end" style="font-family:'Liberation Serif',serif;font-size:16px;fill:#111;font-size:17px">500</text>
<line x1="52.10" y1="445.27" x2="56.60" y2="445.27" stroke="#c8c8c8" stroke-width="1"/>
<line x1="52.10" y1="438.62" x2="56.60" y2="438.62" stroke="#c8c8c8" stroke-width="1"/>
<line x1="52.10" y1="431.96" x2="56.60" y2="431.96" stroke="#c8c8c8" stroke-width="1"/>
<line x1="52.10" y1="425.30" x2="56.60" y2="425.30" stroke="#c8c8c8" stroke-width="1"/>
<line x1="47.60" y1="418.65" x2="56.60" y2="418.65" stroke="#c8c8c8" stroke-width="1"/>
<text x="43.30" y="424.15" text-anchor="end" style="font-family:'Liberation Serif',serif;font-size:16px;fill:#111;font-size:17px">600</text>
<line x1="52.10" y1="412.00" x2="56.60" y2="412.00" stroke="#c8c8c8" stroke-width="1"/>
<line x1="52.10" y1="405.34" x2="56.60" y2="405.34" stroke="#c8c8c8" stroke-width="1"/>
<line x1="52.10" y1="398.69" x2="56.60" y2="398.69" stroke="#c8c8c8" stroke-width="1"/>
<line x1="52.10" y1="392.03" x2="56.60" y2="392.03" stroke="#c8c8c8" stroke-width="1"/>
<line x1="47.60" y1="385.38" x2="56.60" y2="385.38" stroke="#c8c8c8" stroke-width="1"/>
<text x="43.30" y="390.88" text-anchor="end" style="font-family:'Liberation Serif',serif;font-size:16px;fill:#111;font-size:17px">700</text>
<line x1="52.10" y1="378.72" x2="56.60" y2="378.72" stroke="#c8c8c8" stroke-width="1"/>
<line x1="52.10" y1="372.06" x2="56.60" y2="372.06" stroke="#c8c8c8" stroke-width="1"/>
<line x1="52.10" y1="365.41" x2="56.60" y2="365.41" stroke="#c8c8c8" stroke-width="1"/>
<line x1="52.10" y1="358.75" x2="56.60" y2="358.75" stroke="#c8c8c8" stroke-width="1"/>
<line x1="47.60" y1="352.10" x2="56.60" y2="352.10" stroke="#c8c8c8" stroke-width="1"/>
<text x="43.30" y="357.60" text-anchor="end" style="font-family:'Liberation Serif',serif;font-size:16px;fill:#111;font-size:17px">800</text>
<line x1="56.60" y1="618.30" x2="56.60" y2="627.30" stroke="#c8c8c8" stroke-width="1"/>
<text x="56.60" y="645.90" text-anchor="middle" style="font-family:'Liberation Serif',serif;font-size:16px;fill:#111">0</text>
<line x1="67.26" y1="618.30" x2="67.26" y2="622.80" stroke="#c8c8c8" stroke-width="1"/>
<line x1="77.91" y1="618.30" x2="77.91" y2="622.80" stroke="#c8c8c8" stroke-width="1"/>
<line x1="88.57" y1="618.30" x2="88.57" y2="622.80" stroke="#c8c8c8" stroke-width="1"/>
<line x1="99.22" y1="618.30" x2="99.22" y2="622.80" stroke="#c8c8c8" stroke-width="1"/>
<line x1="109.88" y1="618.30" x2="109.88" y2="627.30" stroke="#c8c8c8" stroke-width="1"/>
<text x="109.88" y="645.90" text-anchor="middle" style="font-family:'Liberation Serif',serif;font-size:16px;fill:#111">1</text>
<line x1="120.54" y1="618.30" x2="120.54" y2="622.80" stroke="#c8c8c8" stroke-width="1"/>
<line x1="131.19" y1="618.30" x2="131.19" y2="622.80" stroke="#c8c8c8" stroke-width="1"/>
<line x1="141.85" y1="618.30" x2="141.85" y2="622.80" stroke="#c8c8c8" stroke-width="1"/>
<line x1="152.50" y1="618.30" x2="152.50" y2="622.80" stroke="#c8c8c8" stroke-width="1"/>
<line x1="163.16" y1="618.30" x2="163.16" y2="627.30" stroke="#c8c8c8" stroke-width="1"/>
<text x="163.16" y="645.90" text-anchor="middle" style="font-family:'Liberation Serif',serif;font-size:16px;fill:#111">2</text>
<line x1="173.82" y1="618.30" x2="173.82" y2="622.80" stroke="#c8c8c8" stroke-width="1"/>
<line x1="184.47" y1="618.30" x2="184.47" y2="622.80" stroke="#c8c8c8" stroke-width="1"/>
<line x1="195.13" y1="618.30" x2="195.13" y2="622.80" stroke="#c8c8c8" stroke-width="1"/>
<line x1="205.78" y1="618.30" x2="205.78" y2="622.80" stroke="#c8c8c8" stroke-width="1"/>
<line x1="216.44" y1="618.30" x2="216.44" y2="627.30" stroke="#c8c8c8" stroke-width="1"/>
<text x="216.44" y="645.90" text-anchor="middle" style="font-family:'Liberation Serif',serif;font-size:16px;fill:#111">3</text>
<line x1="227.10" y1="618.30" x2="227.10" y2="622.80" stroke="#c8c8c8" stroke-width="1"/>
<line x1="237.75" y1="618.30" x2="237.75" y2="622.80" stroke="#c8c8c8" stroke-width="1"/>
<line x1="248.41" y1="618.30" x2="248.41" y2="622.80" stroke="#c8c8c8" stroke-width="1"/>
<line x1="259.06" y1="618.30" x2="259.06" y2="622.80" stroke="#c8c8c8" stroke-width="1"/>
<line x1="269.72" y1="618.30" x2="269.72" y2="627.30" stroke="#c8c8c8" stroke-width="1"/>
<text x="269.72" y="645.90" text-anchor="middle" style="font-family:'Liberation Serif',serif;font-size:16px;fill:#111">4</text>
<line x1="280.38" y1="618.30" x2="280.38" y2="622.80" stroke="#c8c8c8" stroke-width="1"/>
<line x1="291.03" y1="618.30" x2="291.03" y2="622.80" stroke="#c8c8c8" stroke-width="1"/>
<line x1="301.69" y1="618.30" x2="301.69" y2="622.80" stroke="#c8c8c8" stroke-width="1"/>
<line x1="312.34" y1="618.30" x2="312.34" y2="622.80" stroke="#c8c8c8" stroke-width="1"/>
<line x1="323.00" y1="618.30" x2="323.00" y2="627.30" stroke="#c8c8c8" stroke-width="1"/>
<text x="323.00" y="645.90" text-anchor="middle" style="font-family:'Liberation Serif',serif;font-size:16px;fill:#111">5</text>
<text x="190.00" y="664.20" text-anchor="middle" style="font-family:'Liberation Serif',serif;font-size:16px;fill:#111">Radial strain (%)</text>
<text transform="translate(11.50,485.20) rotate(-90)" text-anchor="middle" style="font-family:'Liberation Serif',serif;font-size:16px;fill:#111">Indirect tensile stress (kPa)</text>
<polyline points="56.60,618.30 56.70,563.00 58.70,499.10 59.30,473.90 62.80,449.80 62.70,424.10 62.70,397.00 62.70,383.80 73.40,374.50 104.40,454.90 133.50,618.30" fill="none" stroke="#1a1a1a" stroke-width="0.9" stroke-dasharray="2.4,1.3"/>
<polyline points="56.60,618.30 56.30,572.70 56.30,484.30 56.30,452.70 68.70,474.10 81.50,484.50 86.00,497.20 89.00,505.60 108.10,514.20 123.00,509.30 137.90,505.60 150.50,501.10 171.30,497.20 188.50,500.50 194.10,500.00 201.60,501.10 208.00,502.50 217.70,508.00 231.50,511.60 244.90,519.40 251.00,520.00 277.50,521.80 289.60,512.30 295.30,518.50 323.10,517.20" fill="none" stroke="#1a1a1a" stroke-width="0.9" stroke-dasharray="2.4,1.3"/>
<polyline points="56.60,618.30 63.70,570.00 71.20,553.30 78.30,539.50 85.70,524.80 92.80,511.20 99.90,496.90 107.40,484.40 115.60,474.00 120.50,480.50 124.10,496.90 140.40,492.40 173.80,490.20 207.10,506.90 237.10,516.60 265.70,511.10 284.80,517.20 322.50,523.30" fill="none" stroke="#1a1a1a" stroke-width="0.9" stroke-dasharray="2.4,1.3"/>
<polyline points="56.70,617.70 56.70,566.70 57.50,551.80 58.60,538.10 58.90,527.20 62.00,520.50 78.30,514.00 100.40,507.80 131.20,514.20 165.50,507.40 188.50,503.80 200.50,507.40 236.50,509.70 257.90,511.60 271.80,514.90 312.50,520.50" fill="none" stroke="#1a1a1a" stroke-width="0.9" stroke-dasharray="2.4,1.3"/>
<circle cx="56.70" cy="563.00" r="3.3" fill="#ff0000"/>
<circle cx="58.70" cy="499.10" r="3.3" fill="#ff0000"/>
<circle cx="59.30" cy="473.90" r="3.3" fill="#ff0000"/>
<circle cx="62.80" cy="449.80" r="3.3" fill="#ff0000"/>
<circle cx="62.70" cy="424.10" r="3.3" fill="#ff0000"/>
<circle cx="62.70" cy="397.00" r="3.3" fill="#ff0000"/>
<circle cx="73.40" cy="374.50" r="3.3" fill="#ff0000"/>
<circle cx="104.40" cy="454.90" r="3.3" fill="#ff0000"/>
<circle cx="56.30" cy="572.70" r="3.2" fill="#fff" stroke="#b8b8b8" stroke-width="0.7"/>
<circle cx="56.30" cy="484.30" r="3.2" fill="#fff" stroke="#b8b8b8" stroke-width="0.7"/>
<circle cx="56.30" cy="452.70" r="3.2" fill="#fff" stroke="#b8b8b8" stroke-width="0.7"/>
<circle cx="68.70" cy="474.10" r="3.2" fill="#fff" stroke="#b8b8b8" stroke-width="0.7"/>
<circle cx="81.50" cy="484.50" r="3.2" fill="#fff" stroke="#b8b8b8" stroke-width="0.7"/>
<circle cx="86.00" cy="497.20" r="3.2" fill="#fff" stroke="#b8b8b8" stroke-width="0.7"/>
<circle cx="89.00" cy="505.60" r="3.2" fill="#fff" stroke="#b8b8b8" stroke-width="0.7"/>
<circle cx="108.10" cy="514.20" r="3.2" fill="#fff" stroke="#b8b8b8" stroke-width="0.7"/>
<circle cx="123.00" cy="509.30" r="3.2" fill="#fff" stroke="#b8b8b8" stroke-width="0.7"/>
<circle cx="137.90" cy="505.60" r="3.2" fill="#fff" stroke="#b8b8b8" stroke-width="0.7"/>
<circle cx="150.50" cy="501.10" r="3.2" fill="#fff" stroke="#b8b8b8" stroke-width="0.7"/>
<circle cx="171.30" cy="497.20" r="3.2" fill="#fff" stroke="#b8b8b8" stroke-width="0.7"/>
<circle cx="188.50" cy="500.50" r="3.2" fill="#fff" stroke="#b8b8b8" stroke-width="0.7"/>
<circle cx="194.10" cy="500.00" r="3.2" fill="#fff" stroke="#b8b8b8" stroke-width="0.7"/>
<circle cx="201.60" cy="501.10" r="3.2" fill="#fff" stroke="#b8b8b8" stroke-width="0.7"/>
<circle cx="208.00" cy="502.50" r="3.2" fill="#fff" stroke="#b8b8b8" stroke-width="0.7"/>
<circle cx="217.70" cy="508.00" r="3.2" fill="#fff" stroke="#b8b8b8" stroke-width="0.7"/>
<circle cx="231.50" cy="511.60" r="3.2" fill="#fff" stroke="#b8b8b8" stroke-width="0.7"/>
<circle cx="244.90" cy="519.40" r="3.2" fill="#fff" stroke="#b8b8b8" stroke-width="0.7"/>
<circle cx="251.00" cy="520.00" r="3.2" fill="#fff" stroke="#b8b8b8" stroke-width="0.7"/>
<circle cx="277.50" cy="521.80" r="3.2" fill="#fff" stroke="#b8b8b8" stroke-width="0.7"/>
<circle cx="289.60" cy="512.30" r="3.2" fill="#fff" stroke="#b8b8b8" stroke-width="0.7"/>
<circle cx="295.30" cy="518.50" r="3.2" fill="#fff" stroke="#b8b8b8" stroke-width="0.7"/>
<circle cx="323.10" cy="517.20" r="3.2" fill="#fff" stroke="#b8b8b8" stroke-width="0.7"/>
<rect x="60.50" y="566.80" width="6.4" height="6.4" fill="#ff0000"/>
<rect x="68.00" y="550.10" width="6.4" height="6.4" fill="#ff0000"/>
<rect x="75.10" y="536.30" width="6.4" height="6.4" fill="#ff0000"/>
<rect x="82.50" y="521.60" width="6.4" height="6.4" fill="#ff0000"/>
<rect x="89.60" y="508.00" width="6.4" height="6.4" fill="#ff0000"/>
<rect x="96.70" y="493.70" width="6.4" height="6.4" fill="#ff0000"/>
<rect x="104.20" y="481.20" width="6.4" height="6.4" fill="#ff0000"/>
<rect x="112.40" y="470.80" width="6.4" height="6.4" fill="#ff0000"/>
<rect x="117.30" y="477.30" width="6.4" height="6.4" fill="#ff0000"/>
<rect x="120.90" y="493.70" width="6.4" height="6.4" fill="#ff0000"/>
<rect x="137.20" y="489.20" width="6.4" height="6.4" fill="#ff0000"/>
<rect x="170.60" y="487.00" width="6.4" height="6.4" fill="#ff0000"/>
<rect x="203.90" y="503.70" width="6.4" height="6.4" fill="#ff0000"/>
<rect x="233.90" y="513.40" width="6.4" height="6.4" fill="#ff0000"/>
<rect x="262.50" y="507.90" width="6.4" height="6.4" fill="#ff0000"/>
<rect x="281.60" y="514.00" width="6.4" height="6.4" fill="#ff0000"/>
<rect x="319.30" y="520.10" width="6.4" height="6.4" fill="#ff0000"/>
<rect x="53.65" y="614.65" width="6.1000000000000005" height="6.1000000000000005" fill="#fff" stroke="#b8b8b8" stroke-width="0.7"/>
<rect x="53.65" y="563.65" width="6.1000000000000005" height="6.1000000000000005" fill="#fff" stroke="#b8b8b8" stroke-width="0.7"/>
<rect x="54.45" y="548.75" width="6.1000000000000005" height="6.1000000000000005" fill="#fff" stroke="#b8b8b8" stroke-width="0.7"/>
<rect x="55.55" y="535.05" width="6.1000000000000005" height="6.1000000000000005" fill="#fff" stroke="#b8b8b8" stroke-width="0.7"/>
<rect x="55.85" y="524.15" width="6.1000000000000005" height="6.1000000000000005" fill="#fff" stroke="#b8b8b8" stroke-width="0.7"/>
<rect x="58.95" y="517.45" width="6.1000000000000005" height="6.1000000000000005" fill="#fff" stroke="#b8b8b8" stroke-width="0.7"/>
<rect x="75.25" y="510.95" width="6.1000000000000005" height="6.1000000000000005" fill="#fff" stroke="#b8b8b8" stroke-width="0.7"/>
<rect x="97.35" y="504.75" width="6.1000000000000005" height="6.1000000000000005" fill="#fff" stroke="#b8b8b8" stroke-width="0.7"/>
<rect x="128.15" y="511.15" width="6.1000000000000005" height="6.1000000000000005" fill="#fff" stroke="#b8b8b8" stroke-width="0.7"/>
<rect x="162.45" y="504.35" width="6.1000000000000005" height="6.1000000000000005" fill="#fff" stroke="#b8b8b8" stroke-width="0.7"/>
<rect x="197.45" y="504.35" width="6.1000000000000005" height="6.1000000000000005" fill="#fff" stroke="#b8b8b8" stroke-width="0.7"/>
<rect x="233.45" y="506.65" width="6.1000000000000005" height="6.1000000000000005" fill="#fff" stroke="#b8b8b8" stroke-width="0.7"/>
<rect x="254.85" y="508.55" width="6.1000000000000005" height="6.1000000000000005" fill="#fff" stroke="#b8b8b8" stroke-width="0.7"/>
<rect x="268.75" y="511.85" width="6.1000000000000005" height="6.1000000000000005" fill="#fff" stroke="#b8b8b8" stroke-width="0.7"/>
<rect x="309.45" y="517.45" width="6.1000000000000005" height="6.1000000000000005" fill="#fff" stroke="#b8b8b8" stroke-width="0.7"/>
<text x="195.40" y="376.30" style="font-family:'Liberation Serif',serif;font-size:16px;fill:#111">30% FA at 7 days</text>
<line x1="195.50" y1="390.90" x2="216.00" y2="390.90" stroke="#1a1a1a" stroke-width="0.9" stroke-dasharray="2.4,1.3"/>
<circle cx="205.50" cy="390.90" r="3.3" fill="#ff0000"/>
<text x="221.40" y="396.20" style="font-family:'Liberation Serif',serif;font-size:16px;fill:#111">0%&#160;&#160;&#160;MNRL</text>
<line x1="195.50" y1="410.80" x2="216.00" y2="410.80" stroke="#1a1a1a" stroke-width="0.9" stroke-dasharray="2.4,1.3"/>
<circle cx="205.50" cy="410.80" r="3.2" fill="#fff" stroke="#b8b8b8" stroke-width="0.7"/>
<text x="221.40" y="416.10" style="font-family:'Liberation Serif',serif;font-size:16px;fill:#111">5%&#160;&#160;&#160;MNRL</text>
<line x1="195.50" y1="430.20" x2="216.00" y2="430.20" stroke="#1a1a1a" stroke-width="0.9" stroke-dasharray="2.4,1.3"/>
<rect x="202.30" y="427.00" width="6.4" height="6.4" fill="#ff0000"/>
<text x="221.40" y="435.50" style="font-family:'Liberation Serif',serif;font-size:16px;fill:#111">7%&#160;&#160;&#160;MNRL</text>
<line x1="195.50" y1="450.10" x2="216.00" y2="450.10" stroke="#1a1a1a" stroke-width="0.9" stroke-dasharray="2.4,1.3"/>
<rect x="202.45" y="447.05" width="6.1000000000000005" height="6.1000000000000005" fill="#fff" stroke="#b8b8b8" stroke-width="0.7"/>
<text x="221.40" y="455.40" style="font-family:'Liberation Serif',serif;font-size:16px;fill:#111">10%&#160;MNRL</text>
<line x1="415.50" y1="355.60" x2="682.05" y2="355.60" stroke="#a0a0a0" stroke-width="1.2"/>
<line x1="681.50" y1="355.60" x2="681.50" y2="622.00" stroke="#8c8c8c" stroke-width="1.1"/>
<line x1="415.50" y1="355.60" x2="415.50" y2="622.00" stroke="#d4d4d4" stroke-width="1"/>
<line x1="415.50" y1="622.00" x2="681.50" y2="622.00" stroke="#e8e8e8" stroke-width="1.6"/>
<line x1="406.40" y1="621.90" x2="415.40" y2="621.90" stroke="#c8c8c8" stroke-width="1"/>
<text x="402.20" y="627.20" text-anchor="end" style="font-family:'Liberation Serif',serif;font-size:16px;fill:#111;font-size:16px">0</text>
<line x1="410.90" y1="615.25" x2="415.40" y2="615.25" stroke="#c8c8c8" stroke-width="1"/>
<line x1="410.90" y1="608.60" x2="415.40" y2="608.60" stroke="#c8c8c8" stroke-width="1"/>
<line x1="410.90" y1="601.94" x2="415.40" y2="601.94" stroke="#c8c8c8" stroke-width="1"/>
<line x1="410.90" y1="595.29" x2="415.40" y2="595.29" stroke="#c8c8c8" stroke-width="1"/>
<line x1="406.40" y1="588.64" x2="415.40" y2="588.64" stroke="#c8c8c8" stroke-width="1"/>
<text x="402.20" y="593.94" text-anchor="end" style="font-family:'Liberation Serif',serif;font-size:16px;fill:#111;font-size:16px">100</text>
<line x1="410.90" y1="581.99" x2="415.40" y2="581.99" stroke="#c8c8c8" stroke-width="1"/>
<line x1="410.90" y1="575.33" x2="415.40" y2="575.33" stroke="#c8c8c8" stroke-width="1"/>
<line x1="410.90" y1="568.68" x2="415.40" y2="568.68" stroke="#c8c8c8" stroke-width="1"/>
<line x1="410.90" y1="562.03" x2="415.40" y2="562.03" stroke="#c8c8c8" stroke-width="1"/>
<line x1="406.40" y1="555.38" x2="415.40" y2="555.38" stroke="#c8c8c8" stroke-width="1"/>
<text x="402.20" y="560.67" text-anchor="end" style="font-family:'Liberation Serif',serif;font-size:16px;fill:#111;font-size:16px">200</text>
<line x1="410.90" y1="548.72" x2="415.40" y2="548.72" stroke="#c8c8c8" stroke-width="1"/>
<line x1="410.90" y1="542.07" x2="415.40" y2="542.07" stroke="#c8c8c8" stroke-width="1"/>
<line x1="410.90" y1="535.42" x2="415.40" y2="535.42" stroke="#c8c8c8" stroke-width="1"/>
<line x1="410.90" y1="528.76" x2="415.40" y2="528.76" stroke="#c8c8c8" stroke-width="1"/>
<line x1="406.40" y1="522.11" x2="415.40" y2="522.11" stroke="#c8c8c8" stroke-width="1"/>
<text x="402.20" y="527.41" text-anchor="end" style="font-family:'Liberation Serif',serif;font-size:16px;fill:#111;font-size:16px">300</text>
<line x1="410.90" y1="515.46" x2="415.40" y2="515.46" stroke="#c8c8c8" stroke-width="1"/>
<line x1="410.90" y1="508.81" x2="415.40" y2="508.81" stroke="#c8c8c8" stroke-width="1"/>
<line x1="410.90" y1="502.15" x2="415.40" y2="502.15" stroke="#c8c8c8" stroke-width="1"/>
<line x1="410.90" y1="495.50" x2="415.40" y2="495.50" stroke="#c8c8c8" stroke-width="1"/>
<line x1="406.40" y1="488.85" x2="415.40" y2="488.85" stroke="#c8c8c8" stroke-width="1"/>
<text x="402.20" y="494.15" text-anchor="end" style="font-family:'Liberation Serif',serif;font-size:16px;fill:#111;font-size:16px">400</text>
<line x1="410.90" y1="482.20" x2="415.40" y2="482.20" stroke="#c8c8c8" stroke-width="1"/>
<line x1="410.90" y1="475.54" x2="415.40" y2="475.54" stroke="#c8c8c8" stroke-width="1"/>
<line x1="410.90" y1="468.89" x2="415.40" y2="468.89" stroke="#c8c8c8" stroke-width="1"/>
<line x1="410.90" y1="462.24" x2="415.40" y2="462.24" stroke="#c8c8c8" stroke-width="1"/>
<line x1="406.40" y1="455.59" x2="415.40" y2="455.59" stroke="#c8c8c8" stroke-width="1"/>
<text x="402.20" y="460.89" text-anchor="end" style="font-family:'Liberation Serif',serif;font-size:16px;fill:#111;font-size:16px">500</text>
<line x1="410.90" y1="448.94" x2="415.40" y2="448.94" stroke="#c8c8c8" stroke-width="1"/>
<line x1="410.90" y1="442.28" x2="415.40" y2="442.28" stroke="#c8c8c8" stroke-width="1"/>
<line x1="410.90" y1="435.63" x2="415.40" y2="435.63" stroke="#c8c8c8" stroke-width="1"/>
<line x1="410.90" y1="428.98" x2="415.40" y2="428.98" stroke="#c8c8c8" stroke-width="1"/>
<line x1="406.40" y1="422.33" x2="415.40" y2="422.33" stroke="#c8c8c8" stroke-width="1"/>
<text x="402.20" y="427.63" text-anchor="end" style="font-family:'Liberation Serif',serif;font-size:16px;fill:#111;font-size:16px">600</text>
<line x1="410.90" y1="415.67" x2="415.40" y2="415.67" stroke="#c8c8c8" stroke-width="1"/>
<line x1="410.90" y1="409.02" x2="415.40" y2="409.02" stroke="#c8c8c8" stroke-width="1"/>
<line x1="410.90" y1="402.37" x2="415.40" y2="402.37" stroke="#c8c8c8" stroke-width="1"/>
<line x1="410.90" y1="395.72" x2="415.40" y2="395.72" stroke="#c8c8c8" stroke-width="1"/>
<line x1="406.40" y1="389.06" x2="415.40" y2="389.06" stroke="#c8c8c8" stroke-width="1"/>
<text x="402.20" y="394.36" text-anchor="end" style="font-family:'Liberation Serif',serif;font-size:16px;fill:#111;font-size:16px">700</text>
<line x1="410.90" y1="382.41" x2="415.40" y2="382.41" stroke="#c8c8c8" stroke-width="1"/>
<line x1="410.90" y1="375.76" x2="415.40" y2="375.76" stroke="#c8c8c8" stroke-width="1"/>
<line x1="410.90" y1="369.11" x2="415.40" y2="369.11" stroke="#c8c8c8" stroke-width="1"/>
<line x1="410.90" y1="362.45" x2="415.40" y2="362.45" stroke="#c8c8c8" stroke-width="1"/>
<line x1="406.40" y1="355.80" x2="415.40" y2="355.80" stroke="#c8c8c8" stroke-width="1"/>
<text x="402.20" y="361.10" text-anchor="end" style="font-family:'Liberation Serif',serif;font-size:16px;fill:#111;font-size:16px">800</text>
<line x1="415.40" y1="621.90" x2="415.40" y2="630.90" stroke="#c8c8c8" stroke-width="1"/>
<text x="415.40" y="649.50" text-anchor="middle" style="font-family:'Liberation Serif',serif;font-size:16px;fill:#111">0</text>
<line x1="426.04" y1="621.90" x2="426.04" y2="626.40" stroke="#c8c8c8" stroke-width="1"/>
<line x1="436.68" y1="621.90" x2="436.68" y2="626.40" stroke="#c8c8c8" stroke-width="1"/>
<line x1="447.32" y1="621.90" x2="447.32" y2="626.40" stroke="#c8c8c8" stroke-width="1"/>
<line x1="457.96" y1="621.90" x2="457.96" y2="626.40" stroke="#c8c8c8" stroke-width="1"/>
<line x1="468.60" y1="621.90" x2="468.60" y2="630.90" stroke="#c8c8c8" stroke-width="1"/>
<text x="468.60" y="649.50" text-anchor="middle" style="font-family:'Liberation Serif',serif;font-size:16px;fill:#111">1</text>
<line x1="479.24" y1="621.90" x2="479.24" y2="626.40" stroke="#c8c8c8" stroke-width="1"/>
<line x1="489.88" y1="621.90" x2="489.88" y2="626.40" stroke="#c8c8c8" stroke-width="1"/>
<line x1="500.52" y1="621.90" x2="500.52" y2="626.40" stroke="#c8c8c8" stroke-width="1"/>
<line x1="511.16" y1="621.90" x2="511.16" y2="626.40" stroke="#c8c8c8" stroke-width="1"/>
<line x1="521.80" y1="621.90" x2="521.80" y2="630.90" stroke="#c8c8c8" stroke-width="1"/>
<text x="521.80" y="649.50" text-anchor="middle" style="font-family:'Liberation Serif',serif;font-size:16px;fill:#111">2</text>
<line x1="532.44" y1="621.90" x2="532.44" y2="626.40" stroke="#c8c8c8" stroke-width="1"/>
<line x1="543.08" y1="621.90" x2="543.08" y2="626.40" stroke="#c8c8c8" stroke-width="1"/>
<line x1="553.72" y1="621.90" x2="553.72" y2="626.40" stroke="#c8c8c8" stroke-width="1"/>
<line x1="564.36" y1="621.90" x2="564.36" y2="626.40" stroke="#c8c8c8" stroke-width="1"/>
<line x1="575.00" y1="621.90" x2="575.00" y2="630.90" stroke="#c8c8c8" stroke-width="1"/>
<text x="575.00" y="649.50" text-anchor="middle" style="font-family:'Liberation Serif',serif;font-size:16px;fill:#111">3</text>
<line x1="585.64" y1="621.90" x2="585.64" y2="626.40" stroke="#c8c8c8" stroke-width="1"/>
<line x1="596.28" y1="621.90" x2="596.28" y2="626.40" stroke="#c8c8c8" stroke-width="1"/>
<line x1="606.92" y1="621.90" x2="606.92" y2="626.40" stroke="#c8c8c8" stroke-width="1"/>
<line x1="617.56" y1="621.90" x2="617.56" y2="626.40" stroke="#c8c8c8" stroke-width="1"/>
<line x1="628.20" y1="621.90" x2="628.20" y2="630.90" stroke="#c8c8c8" stroke-width="1"/>
<text x="628.20" y="649.50" text-anchor="middle" style="font-family:'Liberation Serif',serif;font-size:16px;fill:#111">4</text>
<line x1="638.84" y1="621.90" x2="638.84" y2="626.40" stroke="#c8c8c8" stroke-width="1"/>
<line x1="649.48" y1="621.90" x2="649.48" y2="626.40" stroke="#c8c8c8" stroke-width="1"/>
<line x1="660.12" y1="621.90" x2="660.12" y2="626.40" stroke="#c8c8c8" stroke-width="1"/>
<line x1="670.76" y1="621.90" x2="670.76" y2="626.40" stroke="#c8c8c8" stroke-width="1"/>
<line x1="681.40" y1="621.90" x2="681.40" y2="630.90" stroke="#c8c8c8" stroke-width="1"/>
<text x="681.40" y="649.50" text-anchor="middle" style="font-family:'Liberation Serif',serif;font-size:16px;fill:#111">5</text>
<text x="548.60" y="667.80" text-anchor="middle" style="font-family:'Liberation Serif',serif;font-size:16px;fill:#111">Radial strain (%)</text>
<text transform="translate(372.40,488.85) rotate(-90)" text-anchor="middle" style="font-family:'Liberation Serif',serif;font-size:16px;fill:#111">Indirect tensile stress (kPa)</text>
<polyline points="415.40,621.90 415.10,529.50 415.10,514.60 415.10,500.10 415.10,486.10 415.10,471.20 415.10,454.70 419.50,439.00 421.80,425.00 423.80,410.60 424.30,408.00 459.40,541.10 463.70,622.00" fill="none" stroke="#1a1a1a" stroke-width="0.9" stroke-dasharray="2.4,1.3"/>
<polyline points="415.40,621.90 422.20,607.60 428.80,597.20 434.90,585.10 445.10,573.90 455.50,561.90 468.30,556.00 477.60,549.60 504.80,543.80 514.80,541.00 530.10,541.20 546.20,547.80 558.60,553.40 565.90,559.90 571.80,566.20 580.00,573.00 590.50,579.50 607.30,585.70 620.60,592.10 634.40,598.20 660.00,604.40 681.40,609.00" fill="none" stroke="#1a1a1a" stroke-width="0.9" stroke-dasharray="2.4,1.3"/>
<polyline points="415.40,621.90 419.30,593.90 419.60,587.70 420.30,581.90 423.20,576.30 436.20,571.00 451.80,567.00 478.00,563.10 495.50,559.10 514.40,555.10 536.00,549.70 561.80,551.90 570.30,558.20 597.60,564.50 620.60,570.70 644.40,577.20 658.20,583.70 681.40,588.30" fill="none" stroke="#1a1a1a" stroke-width="0.9" stroke-dasharray="2.4,1.3"/>
<polyline points="415.20,622.00 426.20,613.30 440.80,600.90 453.90,589.90 473.60,583.60 511.20,577.00 570.00,570.90 621.40,573.00 636.70,579.50 649.00,586.00 660.90,592.10 678.90,598.60" fill="none" stroke="#1a1a1a" stroke-width="0.9" stroke-dasharray="2.4,1.3"/>
<circle cx="415.10" cy="529.50" r="3.3" fill="#ff0000"/>
<circle cx="415.10" cy="514.60" r="3.3" fill="#ff0000"/>
<circle cx="415.10" cy="500.10" r="3.3" fill="#ff0000"/>
<circle cx="415.10" cy="486.10" r="3.3" fill="#ff0000"/>
<circle cx="415.10" cy="471.20" r="3.3" fill="#ff0000"/>
<circle cx="415.10" cy="454.70" r="3.3" fill="#ff0000"/>
<circle cx="419.50" cy="439.00" r="3.3" fill="#ff0000"/>
<circle cx="421.80" cy="425.00" r="3.3" fill="#ff0000"/>
<circle cx="423.80" cy="410.60" r="3.3" fill="#ff0000"/>
<circle cx="424.30" cy="408.00" r="3.3" fill="#ff0000"/>
<circle cx="459.40" cy="541.10" r="3.3" fill="#ff0000"/>
<circle cx="463.70" cy="622.00" r="3.3" fill="#ff0000"/>
<circle cx="428.80" cy="597.20" r="3.2" fill="#fff" stroke="#b8b8b8" stroke-width="0.7"/>
<circle cx="434.90" cy="585.10" r="3.2" fill="#fff" stroke="#b8b8b8" stroke-width="0.7"/>
<circle cx="445.10" cy="573.90" r="3.2" fill="#fff" stroke="#b8b8b8" stroke-width="0.7"/>
<circle cx="455.50" cy="561.90" r="3.2" fill="#fff" stroke="#b8b8b8" stroke-width="0.7"/>
<circle cx="468.30" cy="556.00" r="3.2" fill="#fff" stroke="#b8b8b8" stroke-width="0.7"/>
<circle cx="477.60" cy="549.60" r="3.2" fill="#fff" stroke="#b8b8b8" stroke-width="0.7"/>
<circle cx="504.80" cy="543.80" r="3.2" fill="#fff" stroke="#b8b8b8" stroke-width="0.7"/>
<circle cx="530.10" cy="541.20" r="3.2" fill="#fff" stroke="#b8b8b8" stroke-width="0.7"/>
<circle cx="546.20" cy="547.80" r="3.2" fill="#fff" stroke="#b8b8b8" stroke-width="0.7"/>
<circle cx="558.60" cy="553.40" r="3.2" fill="#fff" stroke="#b8b8b8" stroke-width="0.7"/>
<circle cx="565.90" cy="559.90" r="3.2" fill="#fff" stroke="#b8b8b8" stroke-width="0.7"/>
<circle cx="571.80" cy="566.20" r="3.2" fill="#fff" stroke="#b8b8b8" stroke-width="0.7"/>
<circle cx="580.00" cy="573.00" r="3.2" fill="#fff" stroke="#b8b8b8" stroke-width="0.7"/>
<circle cx="590.50" cy="579.50" r="3.2" fill="#fff" stroke="#b8b8b8" stroke-width="0.7"/>
<circle cx="607.30" cy="585.70" r="3.2" fill="#fff" stroke="#b8b8b8" stroke-width="0.7"/>
<circle cx="620.60" cy="592.10" r="3.2" fill="#fff" stroke="#b8b8b8" stroke-width="0.7"/>
<circle cx="634.40" cy="598.20" r="3.2" fill="#fff" stroke="#b8b8b8" stroke-width="0.7"/>
<circle cx="660.00" cy="604.40" r="3.2" fill="#fff" stroke="#b8b8b8" stroke-width="0.7"/>
<rect x="416.10" y="590.70" width="6.4" height="6.4" fill="#ff0000"/>
<rect x="416.40" y="584.50" width="6.4" height="6.4" fill="#ff0000"/>
<rect x="417.10" y="578.70" width="6.4" height="6.4" fill="#ff0000"/>
<rect x="420.00" y="573.10" width="6.4" height="6.4" fill="#ff0000"/>
<rect x="433.00" y="567.80" width="6.4" height="6.4" fill="#ff0000"/>
<rect x="448.60" y="563.80" width="6.4" height="6.4" fill="#ff0000"/>
<rect x="474.80" y="559.90" width="6.4" height="6.4" fill="#ff0000"/>
<rect x="492.30" y="555.90" width="6.4" height="6.4" fill="#ff0000"/>
<rect x="511.20" y="551.90" width="6.4" height="6.4" fill="#ff0000"/>
<rect x="532.80" y="546.50" width="6.4" height="6.4" fill="#ff0000"/>
<rect x="558.60" y="548.70" width="6.4" height="6.4" fill="#ff0000"/>
<rect x="567.10" y="555.00" width="6.4" height="6.4" fill="#ff0000"/>
<rect x="594.40" y="561.30" width="6.4" height="6.4" fill="#ff0000"/>
<rect x="617.40" y="567.50" width="6.4" height="6.4" fill="#ff0000"/>
<rect x="641.20" y="574.00" width="6.4" height="6.4" fill="#ff0000"/>
<rect x="655.00" y="580.50" width="6.4" height="6.4" fill="#ff0000"/>
<rect x="412.15" y="618.95" width="6.1000000000000005" height="6.1000000000000005" fill="#fff" stroke="#b8b8b8" stroke-width="0.7"/>
<rect x="423.15" y="610.25" width="6.1000000000000005" height="6.1000000000000005" fill="#fff" stroke="#b8b8b8" stroke-width="0.7"/>
<rect x="437.75" y="597.85" width="6.1000000000000005" height="6.1000000000000005" fill="#fff" stroke="#b8b8b8" stroke-width="0.7"/>
<rect x="450.85" y="586.85" width="6.1000000000000005" height="6.1000000000000005" fill="#fff" stroke="#b8b8b8" stroke-width="0.7"/>
<rect x="470.55" y="580.55" width="6.1000000000000005" height="6.1000000000000005" fill="#fff" stroke="#b8b8b8" stroke-width="0.7"/>
<rect x="508.15" y="573.95" width="6.1000000000000005" height="6.1000000000000005" fill="#fff" stroke="#b8b8b8" stroke-width="0.7"/>
<rect x="566.95" y="567.85" width="6.1000000000000005" height="6.1000000000000005" fill="#fff" stroke="#b8b8b8" stroke-width="0.7"/>
<rect x="618.35" y="569.95" width="6.1000000000000005" height="6.1000000000000005" fill="#fff" stroke="#b8b8b8" stroke-width="0.7"/>
<rect x="633.65" y="576.45" width="6.1000000000000005" height="6.1000000000000005" fill="#fff" stroke="#b8b8b8" stroke-width="0.7"/>
<rect x="645.95" y="582.95" width="6.1000000000000005" height="6.1000000000000005" fill="#fff" stroke="#b8b8b8" stroke-width="0.7"/>
<rect x="657.85" y="589.05" width="6.1000000000000005" height="6.1000000000000005" fill="#fff" stroke="#b8b8b8" stroke-width="0.7"/>
<rect x="675.85" y="595.55" width="6.1000000000000005" height="6.1000000000000005" fill="#fff" stroke="#b8b8b8" stroke-width="0.7"/>
<text x="556.00" y="378.70" style="font-family:'Liberation Serif',serif;font-size:16px;fill:#111">35% FA at 7 days</text>
<line x1="556.30" y1="393.30" x2="577.00" y2="393.30" stroke="#1a1a1a" stroke-width="0.9" stroke-dasharray="2.4,1.3"/>
<circle cx="566.30" cy="393.30" r="3.3" fill="#ff0000"/>
<text x="582.00" y="398.60" style="font-family:'Liberation Serif',serif;font-size:16px;fill:#111">0%&#160;&#160;&#160;MNRL</text>
<line x1="556.30" y1="413.50" x2="577.00" y2="413.50" stroke="#1a1a1a" stroke-width="0.9" stroke-dasharray="2.4,1.3"/>
<circle cx="566.30" cy="413.50" r="3.2" fill="#fff" stroke="#b8b8b8" stroke-width="0.7"/>
<text x="582.00" y="418.80" style="font-family:'Liberation Serif',serif;font-size:16px;fill:#111">5%&#160;&#160;&#160;MNRl</text>
<line x1="556.30" y1="433.30" x2="577.00" y2="433.30" stroke="#1a1a1a" stroke-width="0.9" stroke-dasharray="2.4,1.3"/>
<rect x="563.10" y="430.10" width="6.4" height="6.4" fill="#ff0000"/>
<text x="582.00" y="438.60" style="font-family:'Liberation Serif',serif;font-size:16px;fill:#111">7%&#160;&#160;&#160;MNRL</text>
<line x1="556.30" y1="453.40" x2="577.00" y2="453.40" stroke="#1a1a1a" stroke-width="0.9" stroke-dasharray="2.4,1.3"/>
<rect x="563.25" y="450.35" width="6.1000000000000005" height="6.1000000000000005" fill="#fff" stroke="#b8b8b8" stroke-width="0.7"/>
<text x="582.00" y="458.70" style="font-family:'Liberation Serif',serif;font-size:16px;fill:#111">10%&#160;MNRL</text>
</svg>
</body></html>
